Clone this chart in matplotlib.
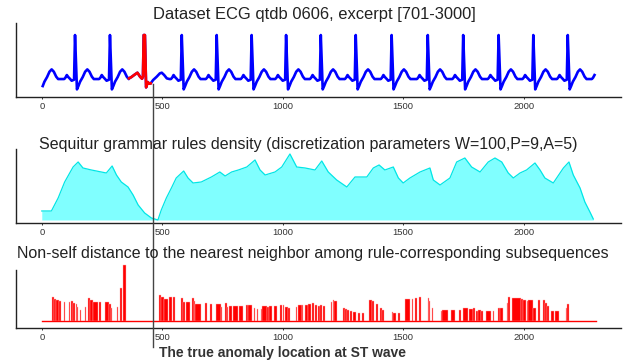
import numpy as np
import matplotlib
matplotlib.use('Agg')
import matplotlib.pyplot as plt
from matplotlib.lines import Line2D

plt.rcParams['font.family'] = ['Liberation Sans', 'DejaVu Sans']

# excerpt [701-3000] -> 2300 samples
n_points = 2300
anomaly_pos = 460
ticks = [0, 500, 1000, 1500, 2000]

# ECG: one normal beat (offset from R peak, value)
beat_off = [-45, -40, -34, -28, -20, -14, -4, 0, 8, 14, 21, 32, 42, 51, 60, 70, 78]
beat_val = [0.06, 0.14, 0.30, 0.18, 0.06, -0.04, 0.02, 2.7, -0.56, -0.36,
            -0.10, 0.18, 0.50, 0.64, 0.50, 0.20, 0.06]
r_peaks = [-10, 138, 283, 581, 726, 871, 1014, 1158, 1303, 1452, 1602,
           1749, 1896, 2040, 2183, 2328]
# the anomalous beat (red) and the stretched T wave after it
anom_x = [362, 372, 385, 397, 408, 416, 420, 423, 428, 433, 440, 446, 452]
anom_v = [0.10, 0.18, 0.32, 0.44, 0.20, 0.08, 0.20, 2.7, 2.7, -0.44, -0.12, -0.22, -0.20]
post_x = [462, 477, 490, 498, 508, 519, 530]
post_v = [0.0, 0.20, 0.40, 0.44, 0.30, 0.10, 0.06]

# rule density
dens_x = [0, 40, 68, 95, 116, 130, 151, 171, 206, 247, 268, 292, 310, 330, 358,
          379, 400, 427, 455, 482, 496, 517, 538, 558, 589, 607, 628, 662, 704,
          739, 761, 788, 816, 851, 885, 906, 927, 968, 996, 1030, 1058, 1093,
          1134, 1162, 1189, 1224, 1266, 1300, 1349, 1376, 1400, 1424, 1459, 1480,
          1500, 1528, 1570, 1611, 1625, 1653, 1694, 1722, 1756, 1784, 1819, 1853,
          1881, 1909, 1936, 1957, 1985, 2012, 2047, 2068, 2088, 2123, 2137, 2165,
          2188, 2206, 2234, 2254, 2275, 2289]
dens_y = [9, 9, 22, 38, 47, 53, 58, 52, 50, 48, 47, 54, 45, 38, 33,
          25, 15, 7, 2, 0, 10, 22, 32, 42, 49, 42, 37, 38, 43,
          48, 44, 48, 50, 53, 60, 50, 45, 48, 53, 66, 53, 52,
          50, 59, 48, 40, 33, 43, 43, 52, 55, 50, 53, 42,
          37, 42, 48, 52, 40, 35, 42, 58, 62, 53, 48, 58,
          62, 58, 47, 42, 47, 50, 57, 50, 42, 37, 42, 52,
          58, 45, 32, 18, 8, 1]

# non-self distance, runs of (start, end, value)
nn_start = [43, 51, 61, 70, 92, 112, 120, 130, 140, 148, 157, 178, 192, 199, 213,
            238, 261, 278, 286, 312, 325, 337,
            487, 494, 507, 528, 545, 578, 586, 599, 624, 630, 637, 676, 698, 723,
            742, 759, 768, 777, 795, 819, 846, 857, 879, 892, 910, 916, 933, 943,
            964, 989, 1000, 1010, 1021, 1055, 1065, 1082, 1093, 1106, 1120, 1133,
            1145, 1156, 1169, 1200, 1207, 1214, 1249, 1258, 1267, 1281, 1292, 1311,
            1328, 1358, 1369, 1386, 1404, 1411, 1452, 1459, 1477, 1507, 1535, 1549,
            1566, 1603, 1607, 1621, 1656, 1661, 1697, 1731, 1749, 1774, 1790, 1802,
            1812, 1821, 1843, 1871, 1892, 1901, 1931, 1937, 1950, 1991, 1998, 2012,
            2019, 2037, 2061, 2081, 2088, 2098, 2112, 2130, 2176, 2181]
nn_end = [51, 61, 70, 79, 98, 117, 128, 137, 147, 150, 163, 182, 199, 213, 234,
          245, 278, 286, 293, 317, 331, 350,
          494, 507, 524, 541, 552, 586, 596, 614, 630, 637, 662, 685, 707, 742,
          748, 768, 774, 791, 816, 837, 857, 871, 885, 899, 916, 933, 943, 954,
          975, 999, 1007, 1021, 1031, 1061, 1079, 1086, 1104, 1117, 1130, 1142,
          1153, 1165, 1174, 1206, 1214, 1224, 1258, 1267, 1275, 1289, 1304, 1319,
          1336, 1369, 1380, 1394, 1411, 1422, 1459, 1469, 1485, 1529, 1542, 1559,
          1574, 1607, 1611, 1625, 1661, 1688, 1716, 1738, 1770, 1790, 1797, 1812,
          1821, 1832, 1864, 1877, 1901, 1913, 1937, 1943, 1991, 1998, 2009, 2019,
          2037, 2051, 2068, 2088, 2098, 2106, 2126, 2148, 2181, 2187]
nn_val = [24, 21.5, 20.5, 19.5, 19, 19, 19.5, 18, 17, 13.5, 11, 13.5, 23, 21, 19,
          19, 19, 17, 13, 14, 33, 56,
          26, 24, 22, 24, 24, 23, 19, 19, 23, 20, 17, 18, 17, 17,
          14, 17.5, 14, 15, 15, 15, 16, 15.5, 13, 12, 12, 15, 14, 15,
          15, 16, 16, 14, 13, 14, 16, 16, 16, 16.7, 17.7, 16,
          15, 16, 15, 19, 21, 20, 13, 11.7, 11, 10, 9.3, 8,
          8, 20.7, 20, 16.7, 13, 11.3, 9.3, 8, 8, 22, 22, 23.3,
          24, 23, 20, 13, 10, 11, 11, 11, 13, 12, 13, 10.3,
          11.3, 9.7, 10.3, 10, 13, 12.7, 17.7, 24, 22.7, 21.7, 21, 20,
          20.7, 13, 21, 21, 17.7, 15, 9.7, 10.3, 13, 17]

# assemble ECG polyline from the beats
ecg_x, ecg_v = [], []
for r in r_peaks:
    ecg_x += [r + o for o in beat_off]
    ecg_v += beat_val
ecg_x += anom_x + post_x
ecg_v += anom_v + post_v
ecg_x = np.array(ecg_x)
ecg_v = np.array(ecg_v)
order = np.argsort(ecg_x, kind='stable')
ecg_x, ecg_v = ecg_x[order], ecg_v[order]
keep = (ecg_x >= 0) & (ecg_x < n_points)
ecg_x, ecg_v = ecg_x[keep], ecg_v[keep]
red = (ecg_x >= anom_x[0]) & (ecg_x <= anom_x[-1])

fig = plt.figure(figsize=(6.32, 3.64), dpi=100)
left, width = 0.0253, 0.9573
ax1 = fig.add_axes([left, 0.7343, width, 0.2033])
ax2 = fig.add_axes([left, 0.3874, width, 0.2033])
ax3 = fig.add_axes([left, 0.0989, width, 0.1745])

txt = '#222222'
for ax in (ax1, ax2, ax3):
    ax.set_xlim(-107, 2404)
    ax.set_xticks(ticks)
    ax.set_yticks([])
    for s in ('top', 'right'):
        ax.spines[s].set_visible(False)
    for s in ('left', 'bottom'):
        ax.spines[s].set_color('#222222')
        ax.spines[s].set_linewidth(1.0)
    ax.tick_params(axis='x', length=1.6, width=0.7, color='#333333',
                   labelsize=6.8, labelcolor='#333333', pad=2)
    ax.patch.set_alpha(0)

# top: ECG
ax1.plot(ecg_x, ecg_v, color='#0000ff', lw=1.9, solid_joinstyle='round')
ax1.plot(ecg_x[red], ecg_v[red], color='#ff0000', lw=1.9, solid_joinstyle='round')
ax1.set_ylim(-1.0, 3.44)

# middle: density
ax2.fill_between(dens_x, 0, dens_y, color='#80ffff', lw=0)
ax2.plot(dens_x, dens_y, color='#00e6e6', lw=0.9)
ax2.set_ylim(-3, 71)

# bottom: distances
ax3.plot([0, n_points - 1], [0, 0], color='#ff0000', lw=1.0)
ax3.bar(nn_start, nn_val, width=np.array(nn_end) - np.array(nn_start),
        align='edge', color='#ff0000', edgecolor='#ffb0b0', lw=0.3)
ax3.set_ylim(-7, 56.5)
ax3.spines['left'].set_bounds(-7, 51)

fig.text(0.497, 1 - 19.3 / 364, 'Dataset ECG qtdb 0606, excerpt [701-3000]',
         ha='center', va='baseline', fontsize=11.9, color=txt)
fig.text(0.487, 1 - 149.3 / 364,
         'Sequitur grammar rules density (discretization parameters W=100,P=9,A=5)',
         ha='center', va='baseline', fontsize=11.5, color=txt)
fig.text(0.495, 1 - 258.3 / 364,
         'Non-self distance to the nearest neighbor among rule-corresponding subsequences',
         ha='center', va='baseline', fontsize=11.5, color=txt)
fig.text(159 / 632, 1 - 357.3 / 364, 'The true anomaly location at ST wave',
         ha='left', va='baseline', fontsize=10, fontweight='bold', color='#333333')

# vertical marker across all panels
xf = fig.transFigure.inverted().transform(ax1.transData.transform((anomaly_pos, 0)))[0]
fig.add_artist(Line2D([xf, xf], [1 - 84 / 364, 1 - 346.7 / 364],
                      transform=fig.transFigure, color='#444444', lw=1.0))

fig.savefig('out.png', dpi=100)
